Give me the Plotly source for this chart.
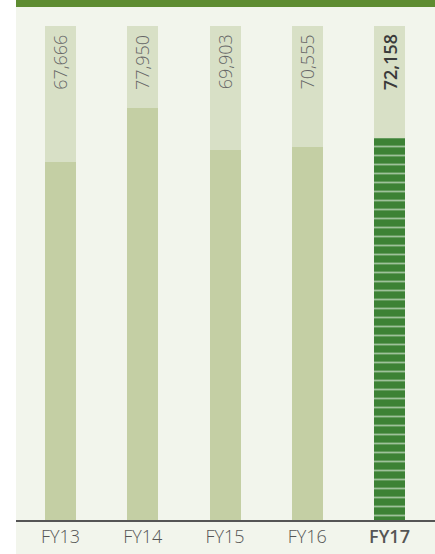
import plotly.graph_objects as go

categories = ["FY13", "FY14", "FY15", "FY16", "FY17"]
values = [67666, 77950, 69903, 70555, 72158]
background_max = [93400, 93400, 93400, 93400, 93400]
value_labels = ["67,666", "77,950", "69,903", "70,555", "72,158"]
tick_labels = ["FY13", "FY14", "FY15", "FY16", "<span style='font-weight:600'>FY17</span>"]

PANEL = "#F2F5EC"
BGBAR = "#D8E0C6"
BAR = "#C4CFA4"
HIGHLIGHT = "#3D8235"
TOP = "#5E8C31"

xs = list(range(len(categories)))
fig = go.Figure()
fig.add_trace(go.Bar(x=xs, y=background_max, width=0.377, marker=dict(color=BGBAR, line=dict(width=0)),
                     hoverinfo="skip", showlegend=False))
fig.add_trace(go.Bar(x=xs, y=values, width=0.377,
                     marker=dict(color=[BAR]*4 + [HIGHLIGHT], line=dict(width=0),
                                 pattern=dict(shape=[""]*4 + ["-"], fgcolor="#5C9A4B",
                                              size=9, solidity=0.2)),
                     showlegend=False))

for i, lab in enumerate(value_labels):
    fig.add_annotation(x=xs[i], y=background_max[i], text=lab,
                       textangle=-90, showarrow=False, xanchor="center", yanchor="top", yshift=-7,
                       font=dict(family="Open Sans", size=18, weight=300 if i < 4 else 600,
                                 color="#666666" if i < 4 else "#3A3A3A"))

# top band and bottom panel
fig.add_shape(type="rect", xref="paper", yref="paper", x0=0, x1=1, y0=1, y1=1 + 7/513,
              fillcolor=TOP, line=dict(width=0), layer="below")
fig.add_shape(type="rect", xref="paper", yref="paper", x0=0, x1=1, y0=-34/513, y1=0,
              fillcolor=PANEL, line=dict(width=0), layer="below")

fig.update_layout(
    width=435, height=554, margin=dict(l=16, r=0, t=7, b=34),
    paper_bgcolor="white", plot_bgcolor=PANEL, barmode="overlay", bargap=0,
    xaxis=dict(range=[-0.541, 4.553], tickvals=xs, ticktext=tick_labels, showgrid=False,
               zeroline=False, showline=True, linecolor="#555555", linewidth=1.5,
               ticks="", tickfont=dict(family="Open Sans", size=18, weight=300, color="#555555")),
    yaxis=dict(range=[0, 96960], visible=False, showgrid=False, zeroline=False),
)
fig.write_html("out.html")
